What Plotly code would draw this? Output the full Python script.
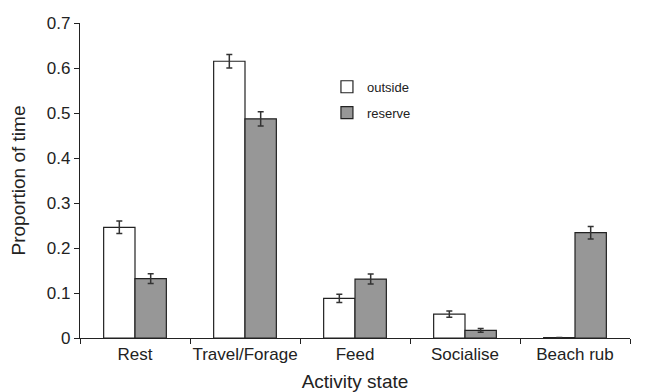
import plotly.graph_objects as go

categories = ["Rest", "Travel/Forage", "Feed", "Socialise", "Beach rub"]
outside = [0.246, 0.615, 0.088, 0.053, 0.001]
outside_err = [0.014, 0.015, 0.009, 0.007, 0.0]
reserve = [0.132, 0.487, 0.131, 0.017, 0.234]
reserve_err = [0.011, 0.016, 0.011, 0.004, 0.014]

FONT = "Liberation Sans, Arial, sans-serif"

fig = go.Figure()
fig.add_trace(go.Bar(
    x=categories, y=outside, name="outside", legendgroup="a",
    marker=dict(color="white", line=dict(color="#222222", width=1.2)),
    error_y=dict(type="data", array=outside_err, visible=True, color="#333333", thickness=1.5, width=3),
))
fig.add_trace(go.Bar(
    x=categories, y=reserve, name="reserve", legendgroup="b",
    marker=dict(color="#979797", line=dict(color="#222222", width=1.2)),
    error_y=dict(type="data", array=reserve_err, visible=True, color="#333333", thickness=1.5, width=3),
))

fig.update_layout(
    width=638, height=384,
    margin=dict(l=72, r=16, t=15, b=54),
    paper_bgcolor="white", plot_bgcolor="white",
    barmode="group", bargap=0.43, bargroupgap=0,
    font=dict(family=FONT, color="#222222"),
    legend=dict(x=0.449, y=0.845, xanchor="left", yanchor="top",
                font=dict(size=13, family=FONT, color="#222222"),
                itemwidth=30, tracegroupgap=6, bgcolor="rgba(0,0,0,0)"),
    xaxis=dict(
        automargin=False, tickangle=0,
        showline=True, linecolor="#222222", linewidth=1.2,
        ticks="outside", tickson="boundaries", ticklen=5, tickcolor="#222222",
        tickfont=dict(size=17), showgrid=False,
        title=dict(text="Activity state", font=dict(size=19), standoff=12),
    ),
    yaxis=dict(
        automargin=False,
        range=[0, 0.7], dtick=0.1, tickformat="~g",
        showline=True, linecolor="#222222", linewidth=1.2,
        ticks="outside", ticklen=5, tickcolor="#222222",
        tickfont=dict(size=17), showgrid=False, zeroline=False,
        title=dict(text="Proportion of time", font=dict(size=19), standoff=16),
    ),
)

fig.write_html("out.html")
